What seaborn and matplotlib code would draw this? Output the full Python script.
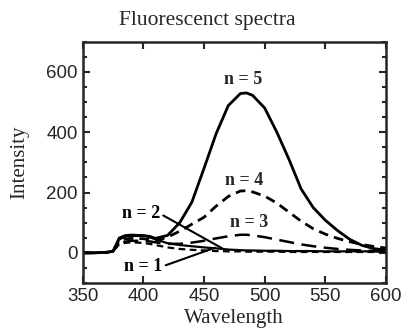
import matplotlib
matplotlib.use("Agg")
import matplotlib.pyplot as plt
import numpy as np
import pandas as pd
import seaborn as sns
from matplotlib.ticker import MultipleLocator

# wavelengths (nm) and intensities
wavelength = [350, 360, 370, 375, 380, 385, 390, 400, 405, 410, 420, 430, 440, 450,
              460, 470, 480, 485, 490, 500, 510, 520, 530, 540, 550, 560, 570, 580,
              590, 600]
n5 = [0, 0, 2, 5, 45, 55, 57, 57, 55, 48, 58, 100, 168, 280,
      395, 488, 528, 530, 522, 480, 400, 310, 212, 150, 108, 74, 45, 25, 14, 9]
n4 = [0, 0, 2, 5, 40, 46, 48, 47, 44, 40, 52, 72, 95, 118,
      155, 187, 205, 206, 202, 188, 165, 135, 105, 80, 62, 48, 37, 28, 21, 16]
n3 = [0, 0, 2, 5, 32, 37, 40, 40, 38, 35, 30, 30, 34, 40,
      48, 55, 60, 60, 58, 52, 44, 36, 28, 22, 17, 13, 10, 8, 6, 5]
n2 = [0, 0, 2, 5, 50, 58, 60, 58, 52, 45, 32, 26, 22, 18,
      15, 11, 9, 8, 8, 7, 7, 6, 6, 6, 5, 5, 5, 5, 5, 5]
n1 = [0, 0, 2, 5, 28, 33, 35, 33, 30, 26, 18, 13, 10, 8,
      6, 5, 5, 4, 4, 4, 4, 3, 3, 3, 3, 3, 3, 3, 3, 3]

df = pd.DataFrame({"Wavelength": wavelength, "n = 5": n5, "n = 4": n4,
                   "n = 3": n3, "n = 2": n2, "n = 1": n1})

sns.set_style("ticks")
plt.rcParams["font.family"] = ["Liberation Serif", "DejaVu Serif"]

fig, ax = plt.subplots(figsize=(4.03, 3.33), dpi=100)
fig.subplots_adjust(left=0.205, right=0.958, top=0.875, bottom=0.15)

styles = {
    "n = 5": dict(lw=2.0, ls="-"),
    "n = 4": dict(lw=2.0, ls=(0, (3.5, 2.2))),
    "n = 3": dict(lw=1.8, ls=(0, (6, 3))),
    "n = 2": dict(lw=1.6, ls="-"),
    "n = 1": dict(lw=1.6, ls=(0, (3, 2))),
}
for name, st in styles.items():
    sns.lineplot(data=df, x="Wavelength", y=name, color="black", ax=ax,
                 linewidth=st["lw"], linestyle=st["ls"])

ax.set_xlim(350, 600)
ax.set_ylim(-100, 700)
ax.xaxis.set_major_locator(MultipleLocator(50))
ax.yaxis.set_major_locator(MultipleLocator(200))
ax.yaxis.set_minor_locator(MultipleLocator(50))
ax.tick_params(which="both", direction="in", top=True, right=True, width=1.5)
ax.tick_params(which="major", length=5, labelsize=13.5)
ax.tick_params(which="minor", length=3)
for lab in ax.get_xticklabels() + ax.get_yticklabels():
    lab.set_family(["Liberation Sans", "DejaVu Sans"])
for sp in ax.spines.values():
    sp.set_linewidth(1.8)

ax.set_title("Fluorescenct spectra", fontsize=15.5, pad=12, x=0.41)
ax.set_xlabel("Wavelength", fontsize=15, labelpad=3)
ax.set_ylabel("Intensity", fontsize=15, labelpad=12)

lab_kw = dict(fontsize=13, fontweight="bold", ha="center", va="center")
ax.text(482, 575, "n = 5", **lab_kw)
ax.text(483, 240, "n = 4", **lab_kw)
ax.text(487, 100, "n = 3", **lab_kw)
ax.annotate("n = 2", xy=(465, 15), xytext=(398, 130), color="black",
            arrowprops=dict(arrowstyle="-", lw=1.5, color="black",
                            relpos=(1, 0.5), shrinkA=0, shrinkB=0), **lab_kw)
ax.annotate("n = 1", xy=(459, 17), xytext=(400, -45), color="black",
            arrowprops=dict(arrowstyle="-", lw=1.5, color="black",
                            relpos=(1, 0.5), shrinkA=0, shrinkB=0), **lab_kw)

fig.savefig("out.png", dpi=100)
